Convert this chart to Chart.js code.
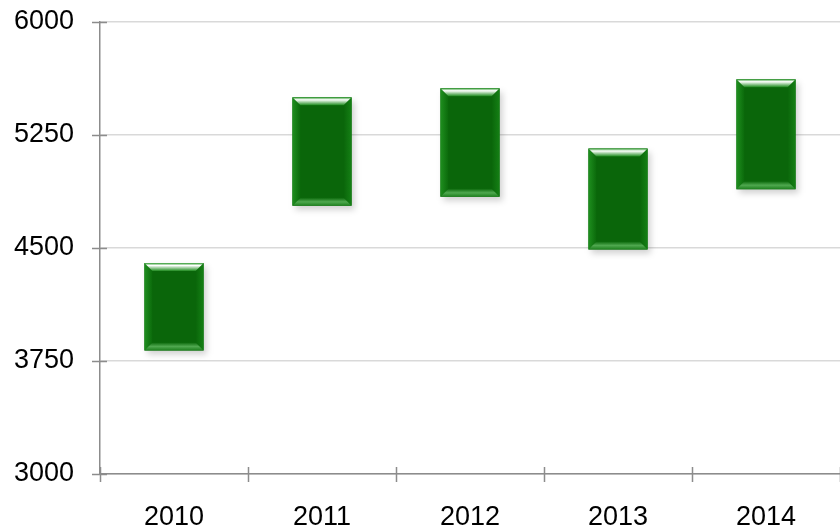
<!DOCTYPE html>
<html lang="en">
<head>
<meta charset="UTF-8">
<title>Range bars</title>
<script src="https://cdn.jsdelivr.net/npm/chart.js"></script>
<style>
  html, body { margin:0; padding:0; background:#fff; }
  #wrap { width:840px; height:528px; }
</style>
</head>
<body>
<div id="wrap"><canvas id="chart"></canvas></div>
<script>
// data
const years = ['2010', '2011', '2012', '2013', '2014'];
const lows  = [3820, 4780, 4840, 4490, 4890];
const highs = [4400, 5500, 5560, 5160, 5620];
const yTicks = [3000, 3750, 4500, 5250, 6000];

// bevel look on top of each bar, drawn from the bar element geometry
const bevel = {
  id: 'bevel',
  beforeDatasetsDraw(chart) {
    const ctx = chart.ctx;
    chart.getDatasetMeta(0).data.forEach(bar => {
      const l = bar.x - bar.width / 2, r = bar.x + bar.width / 2;
      const t = Math.min(bar.y, bar.base), b = Math.max(bar.y, bar.base);
      ctx.save();
      ctx.fillStyle = 'rgba(0,0,0,0.18)';
      ctx.filter = 'blur(3px)';
      ctx.fillRect(l + 3, t + 4, r - l, b - t);
      ctx.restore();
    });
  },
  afterDatasetsDraw(chart) {
    const ctx = chart.ctx;
    chart.getDatasetMeta(0).data.forEach(bar => {
      const l = bar.x - bar.width / 2, r = bar.x + bar.width / 2;
      const t = Math.min(bar.y, bar.base), b = Math.max(bar.y, bar.base);
      const d = 8;
      ctx.save();
      // left side
      let g = ctx.createLinearGradient(l, 0, l + d, 0);
      g.addColorStop(0, '#1f8f1f');
      g.addColorStop(1, '#0b6a0b');
      ctx.beginPath();
      ctx.moveTo(l, t); ctx.lineTo(l + d, t + d); ctx.lineTo(l + d, b - d); ctx.lineTo(l, b); ctx.closePath();
      ctx.fillStyle = g; ctx.fill();
      // right side
      g = ctx.createLinearGradient(r - d, 0, r, 0);
      g.addColorStop(0, '#0a660a');
      g.addColorStop(1, '#158015');
      ctx.beginPath();
      ctx.moveTo(r, t); ctx.lineTo(r - d, t + d); ctx.lineTo(r - d, b - d); ctx.lineTo(r, b); ctx.closePath();
      ctx.fillStyle = g; ctx.fill();
      // top highlight
      g = ctx.createLinearGradient(0, t, 0, t + d);
      g.addColorStop(0, '#2f9a2f');
      g.addColorStop(0.3, '#ffffff');
      g.addColorStop(1, '#1b8a1b');
      ctx.beginPath();
      ctx.moveTo(l, t); ctx.lineTo(r, t); ctx.lineTo(r - d, t + d); ctx.lineTo(l + d, t + d); ctx.closePath();
      ctx.fillStyle = g; ctx.fill();
      // bottom highlight
      g = ctx.createLinearGradient(0, b - d, 0, b);
      g.addColorStop(0, '#0c6a0c');
      g.addColorStop(0.5, '#4fa84f');
      g.addColorStop(1, '#1d801d');
      ctx.beginPath();
      ctx.moveTo(l, b); ctx.lineTo(r, b); ctx.lineTo(r - d, b - d); ctx.lineTo(l + d, b - d); ctx.closePath();
      ctx.fillStyle = g; ctx.fill();
      ctx.restore();
    });
  },
  afterDraw(chart) {
    // ticks that cross the axes
    const ctx = chart.ctx, xs = chart.scales.x, ys = chart.scales.y;
    ctx.save();
    ctx.strokeStyle = '#8c8c8c';
    ctx.lineWidth = 1.5;
    ctx.beginPath();
    const step = xs.getPixelForValue(1) - xs.getPixelForValue(0);
    for (let i = 0; i <= years.length; i++) {
      const px = i < years.length ? xs.getPixelForValue(i) - step / 2 : xs.right;
      ctx.moveTo(Math.round(px) + 0.5, ys.bottom - 7);
      ctx.lineTo(Math.round(px) + 0.5, ys.bottom + 8);
    }
    yTicks.forEach(v => {
      const py = Math.round(ys.getPixelForValue(v)) + 0.5;
      ctx.moveTo(xs.left - 8, py);
      ctx.lineTo(xs.left + 7, py);
    });
    ctx.stroke();
    ctx.restore();
  }
};

new Chart(document.getElementById('chart'), {
  type: 'bar',
  data: {
    labels: years,
    datasets: [{
      data: years.map((_, i) => [lows[i], highs[i]]),
      backgroundColor: '#0a660a',
      borderWidth: 0,
      borderSkipped: false,
      barPercentage: 0.4,
      categoryPercentage: 1
    }]
  },
  options: {
    responsive: true,
    maintainAspectRatio: false,
    animation: false,
    layout: { padding: 0 },
    plugins: { legend: { display: false }, tooltip: { enabled: false } },
    scales: {
      x: {
        grid: { display: false, offset: true },
        border: { color: '#8c8c8c', width: 1.5 },
        ticks: { color: '#000', font: { family: 'Liberation Sans, Arial', size: 27 }, padding: 19 },
        afterFit(s) { s.height = 54; }
      },
      y: {
        min: 3000, max: 6000,
        afterBuildTicks(s) { s.ticks = yTicks.map(v => ({ value: v })); },
        grid: { color: '#d9d9d9', lineWidth: 1.5, drawTicks: false },
        border: { color: '#8c8c8c', width: 1.5 },
        ticks: {
          color: '#000', font: { family: 'Liberation Sans, Arial', size: 27 }, padding: 26,
          callback: v => String(v)
        },
        afterFit(s) { s.width = 100; s.paddingTop = 22; s.paddingBottom = 0; }
      }
    }
  },
  plugins: [bevel]
});
</script>
</body>
</html>
